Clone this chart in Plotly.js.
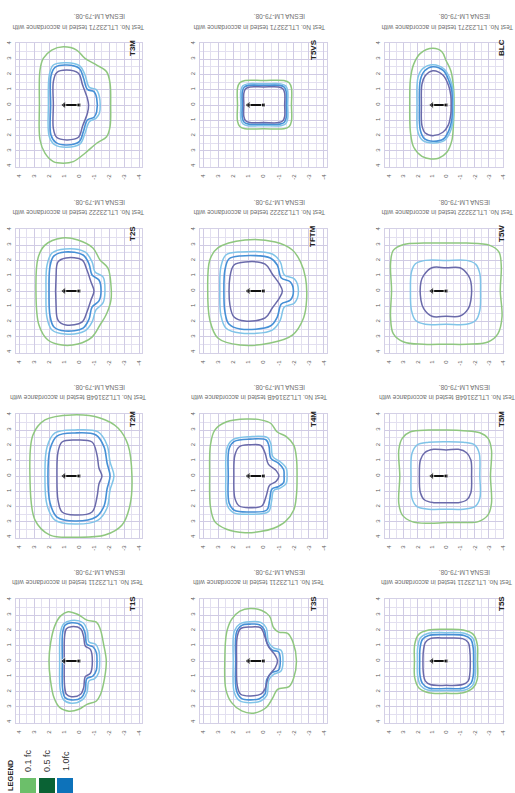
<!DOCTYPE html>
<html><head><meta charset="utf-8">
<script src="https://cdn.plot.ly/plotly-3.0.1.min.js"></script>
<style>html,body{margin:0;padding:0;background:#fff}#chart{width:515px;height:793px}</style>
</head><body><div id="chart"></div>
<script>
// ---------- panel info ----------
const panelNames = ['T3M','T5VS','BLC','T2S','TFTM','T5W','T2M','T4M','T5M','T1S','T3S','T5S'];
const testNos = ['LTL23271','LTL23271','LTL23271','LTL23222','LTL23222','LTL23222','LTL23164B','LTL23164B','LTL23164B','LTL23211','LTL23211','LTL23211'];
const captionLine2 = 'IESNA LM-79-08.';
const xTickVals = [4,3,2,1,0,-1,-2,-3,-4];
const xTickText = ['4','3','2','1','0','-1','-2','-3','-4'];
const yTickVals = [4,3,2,1,0,-1,-2,-3,-4];
const yTickText = ['4','3','2','1','0','1','2','3','4'];
const minorVals = [-3.5,-2.5,-1.5,-0.5,0.5,1.5,2.5,3.5];
const arrowX = [0, 1];
const arrowY = [0, 0];
const legendLabels = ['0.1 fc','0.5 fc','1.0fc'];
const legendColors = ['#6cbf6a','#0a6234','#0d72ba'];

// ---------- contour data (x: luminaire axis, y: along) ----------
const T3M_gx = [1.04,0.16,-0.4,-1.18,-1.84,-2.07,-2.11,-2.07,-1.84,-1.18,-0.4,0.38,1.04,1.71,2.27,2.6,2.64,2.6,2.38,1.82];
const T3M_gy = [3.8,3.59,3.04,2.61,2.17,1.41,0,-1.41,-2.07,-2.5,-3.15,-3.7,-3.8,-3.7,-3.15,-2.28,0,2.28,3.04,3.59];
const T3M_cx = [0.82,-0.07,-0.4,-0.69,-1.13,-1.36,-1.36,-1.13,-0.69,-0.4,-0.07,0.82,1.6,1.98,2.04,1.98,1.71];
const T3M_cy = [2.76,2.54,1.96,1.15,1.02,0.54,-0.54,-0.87,-1.09,-1.85,-2.54,-2.76,-2.61,-2.07,0,1.96,2.61];
const T3M_bx = [0.82,-0.02,-0.29,-0.56,-1.0,-1.18,-1.18,-1.0,-0.56,-0.29,-0.02,0.82,1.53,1.87,1.89,1.87,1.6];
const T3M_by = [2.61,2.39,1.8,1.02,0.87,0.43,-0.43,-0.8,-0.98,-1.74,-2.39,-2.61,-2.46,-1.96,0,1.89,2.46];
const T3M_px = [0.82,0.04,-0.24,-0.56,-0.64,-0.56,-0.24,0.04,0.82,1.49,1.71,1.71,1.71,1.49];
const T3M_py = [2.28,2.07,1.3,0.43,0,-0.54,-1.37,-2.11,-2.28,-2.11,-1.52,0,1.52,2.11];

const T5VS_gx = [0,-1.35,-1.7,-1.85,-1.85,-1.85,-1.7,-1.35,0,1.22,1.57,1.72,1.72,1.72,1.57,1.22];
const T5VS_gy = [1.6,1.6,1.45,1.1,0,-1.05,-1.4,-1.55,-1.55,-1.55,-1.4,-1.05,0,1.1,1.45,1.6];
const T5VS_cx = [0,-1.15,-1.47,-1.6,-1.6,-1.6,-1.47,-1.15,0,1.05,1.37,1.5,1.5,1.5,1.37,1.05];
const T5VS_cy = [1.38,1.38,1.25,0.93,0,-0.9,-1.22,-1.35,-1.35,-1.35,-1.22,-0.9,0,0.93,1.25,1.38];
const T5VS_bx = [0,-1.08,-1.38,-1.5,-1.5,-1.5,-1.38,-1.08,0,0.98,1.28,1.4,1.4,1.4,1.28,0.98];
const T5VS_by = [1.28,1.28,1.16,0.86,0,-0.83,-1.13,-1.25,-1.25,-1.25,-1.13,-0.83,0,0.86,1.16,1.28];
const T5VS_px = [0,-1.0,-1.28,-1.4,-1.4,-1.4,-1.28,-1.0,0,0.9,1.18,1.3,1.3,1.3,1.18,0.9];
const T5VS_py = [1.18,1.18,1.06,0.78,0,-0.75,-1.03,-1.15,-1.15,-1.15,-1.03,-0.75,0,0.78,1.06,1.18];

const BLC_gx = [0.93,0.3,0,-0.33,-0.51,-0.56,-0.51,-0.4,-0.05,0.53,1.07,1.7,2.28,2.51,2.56,2.51,2.28,1.81];
const BLC_gy = [3.7,3.48,2.89,2.24,1.26,0,-1.35,-2.33,-3.09,-3.48,-3.52,-3.35,-2.76,-1.78,0,1.7,2.67,3.37];
const BLC_cx = [0.93,0.14,-0.28,-0.47,-0.51,-0.47,-0.28,0.14,0.93,1.63,1.98,2.05,1.98,1.63];
const BLC_cy = [2.63,2.35,1.7,1.04,0,-1.13,-1.78,-2.33,-2.48,-2.33,-1.78,0,1.8,2.39];
const BLC_bx = [0.93,0.19,-0.19,-0.4,-0.42,-0.4,-0.19,0.19,0.93,1.51,1.81,1.88,1.81,1.51];
const BLC_by = [2.5,2.24,1.59,0.93,0,-0.96,-1.67,-2.22,-2.37,-2.22,-1.67,0,1.65,2.24];
const BLC_px = [0.93,0.23,-0.16,-0.33,-0.35,-0.33,-0.16,0.23,0.88,1.47,1.7,1.74,1.7,1.47];
const BLC_py = [2.24,1.96,1.3,0.61,0,-0.59,-1.3,-1.78,-2.0,-1.83,-1.35,0,1.37,1.91];

const T2S_gx = [1.13,0.07,-0.93,-1.4,-1.93,-2.13,-2.13,-1.8,-1.4,-0.87,0.07,1.13,2.07,2.67,2.87,2.73,2.27];
const T2S_gy = [3.46,3.33,2.81,2.03,1.5,0.39,-0.59,-1.57,-2.22,-3.01,-3.46,-3.53,-3.2,-2.22,0,2.16,3.0];
const T2S_cx = [0.93,-0.4,-0.87,-1.07,-1.6,-1.73,-1.6,-1.13,-0.87,-0.4,0.93,1.8,2.13,2.2,2.13,1.8];
const T2S_cy = [2.75,2.55,1.9,1.24,0.92,0,-0.78,-1.24,-2.03,-2.61,-2.81,-2.55,-1.76,0,1.7,2.48];
const T2S_bx = [0.93,-0.27,-0.67,-0.87,-1.33,-1.47,-1.33,-0.87,-0.67,-0.27,0.93,1.67,1.93,2.0,1.93,1.67];
const T2S_by = [2.55,2.35,1.76,1.05,0.72,0,-0.65,-1.05,-1.83,-2.42,-2.61,-2.35,-1.63,0,1.63,2.29];
const T2S_px = [0.87,-0.2,-0.53,-0.8,-1.0,-0.8,-0.53,-0.2,0.87,1.4,1.53,1.53,1.4];
const T2S_py = [2.16,2.03,1.37,0.59,0,-0.59,-1.37,-2.03,-2.22,-1.9,-0.92,0.92,1.9];

const TFTM_gx = [1.22,-0.78,-1.91,-2.45,-2.78,-2.85,-2.65,-1.91,-0.45,1.55,3.02,3.55,3.69,3.55,3.02];
const TFTM_gy = [3.33,3.2,2.68,1.9,0.85,-0.59,-1.76,-2.88,-3.4,-3.53,-3.07,-1.9,0.07,2.03,2.81];
const TFTM_cx = [1.55,-0.58,-1.11,-1.38,-2.05,-2.31,-2.05,-1.38,-1.11,-0.58,1.55,2.49,2.82,2.89,2.82,2.49];
const TFTM_cy = [2.55,2.42,1.9,1.05,0.78,0,-0.78,-1.05,-1.9,-2.55,-2.75,-2.42,-1.57,0,1.57,2.35];
const TFTM_bx = [1.55,-0.45,-0.91,-1.18,-1.78,-1.98,-1.78,-1.18,-0.91,-0.45,1.55,2.29,2.55,2.62,2.55,2.29];
const TFTM_by = [2.29,2.16,1.7,0.85,0.59,0,-0.59,-0.85,-1.7,-2.29,-2.48,-2.16,-1.37,0,1.37,2.09];
const TFTM_px = [1.22,-0.11,-0.58,-1.05,-1.25,-1.05,-0.58,-0.11,1.22,1.95,2.22,2.22,1.95];
const TFTM_py = [1.9,1.76,1.11,0.46,0,-0.46,-1.11,-1.76,-1.96,-1.7,-0.92,0.92,1.7];

const T5W_gx = [0,-1.44,-3.07,-3.72,-3.88,-3.81,-3.93,-3.65,-2.95,-1.44,0,1.58,2.98,3.72,3.91,3.84,3.91,3.72,2.98,1.58];
const T5W_gy = [3.13,3.13,2.98,2.54,1.57,0.04,-1.7,-2.78,-3.33,-3.48,-3.48,-3.48,-3.33,-2.78,-1.7,0.04,1.78,2.65,3.04,3.13];
const T5W_cx = [0,-1.44,-2.09,-2.37,-2.42,-2.37,-2.09,-1.44,0,1.47,2.16,2.44,2.51,2.44,2.16,1.47];
const T5W_cy = [2.0,2.0,1.74,1.13,0,-1.26,-1.91,-2.17,-2.17,-2.17,-1.91,-1.26,0,1.24,1.78,2.0];
const T5W_px = [0,-0.98,-1.56,-1.74,-1.74,-1.56,-0.98,0,1.0,1.58,1.77,1.77,1.58,1.0];
const T5W_py = [1.52,1.52,1.02,0.59,-0.61,-1.15,-1.63,-1.65,-1.65,-1.15,-0.61,0.59,1.02,1.52];

const T2M_gx = [0.47,-1.4,-2.6,-3.27,-3.53,-3.4,-2.87,-1.73,0.27,1.93,2.93,3.27,3.07,2.27];
const T2M_gy = [3.99,3.79,3.14,2.03,0,-1.9,-3.2,-3.86,-4.0,-3.86,-2.88,0,2.68,3.66];
const T2M_cx = [0.27,-1.27,-1.87,-2.07,-2.33,-2.07,-1.87,-1.27,0.27,1.6,2.13,2.27,2.13,1.6];
const T2M_cy = [3.01,2.88,2.03,0.92,0,-0.92,-2.09,-2.88,-3.14,-2.88,-1.9,0,1.9,2.81];
const T2M_bx = [0.27,-1.13,-1.67,-1.87,-2.07,-1.87,-1.67,-1.13,0.27,1.47,1.93,2.07,1.93,1.47];
const T2M_by = [2.81,2.68,1.9,0.85,0,-0.85,-1.96,-2.68,-2.94,-2.68,-1.76,0,1.76,2.61];
const T2M_px = [0.27,-0.87,-1.2,-1.33,-1.53,-1.33,-1.2,-0.87,0.27,1.13,1.4,1.47,1.4,1.13];
const T2M_py = [2.35,2.22,1.37,0.52,0,-0.52,-1.37,-2.35,-2.55,-2.35,-1.57,0,1.57,2.22];

const T4M_gx = [1.11,0.11,-0.49,-0.89,-1.51,-2.0,-2.18,-2.22,-2.18,-2.0,-1.44,-0.67,0.22,1.22,2.44,3.22,3.51,3.56,3.51,3.22,2.44];
const T4M_gy = [3.72,3.65,3.43,2.89,2.57,2.02,1.15,0,-1.24,-2.22,-2.98,-3.41,-3.63,-3.7,-3.48,-2.98,-2.0,0,2.02,3.0,3.54];
const T4M_cx = [0.89,-0.27,-0.49,-0.62,-1.11,-1.51,-1.56,-1.49,-1.07,-0.67,-0.53,-0.33,0.89,2.0,2.4,2.49,2.4,2.0];
const T4M_cy = [2.57,2.5,2.09,1.26,0.93,0.5,0,-0.52,-0.8,-0.96,-1.67,-2.33,-2.5,-2.39,-1.89,0,1.87,2.39];
const T4M_bx = [0.89,-0.18,-0.36,-0.49,-1.0,-1.33,-1.36,-1.33,-0.96,-0.56,-0.4,-0.22,0.89,1.93,2.27,2.33,2.27,1.93];
const T4M_by = [2.41,2.35,1.96,1.15,0.83,0.43,0,-0.43,-0.7,-0.85,-1.61,-2.22,-2.35,-2.24,-1.78,0,1.8,2.26];
const T4M_px = [0.89,0.18,-0.11,-0.33,-0.84,-1.02,-0.84,-0.4,-0.18,0.11,0.89,1.6,1.89,1.96,1.89,1.6];
const T4M_py = [2.04,2.0,1.48,0.76,0.35,0,-0.35,-0.61,-1.3,-1.96,-2.07,-1.96,-1.46,0,1.37,1.91];

const T5M_gx = [0,-1.21,-2.37,-2.95,-3.19,-3.12,-3.19,-2.95,-2.26,-1.21,0,1.23,2.4,3.09,3.33,3.26,3.33,3.09,2.51,1.23];
const T5M_gy = [3.0,2.96,2.83,2.46,1.7,0,-1.78,-2.54,-2.98,-3.04,-3.04,-3.09,-2.98,-2.54,-1.78,0,1.7,2.46,2.89,3.0];
const T5M_cx = [0,-1.21,-2.02,-2.33,-2.37,-2.37,-2.02,-1.21,0,1.23,2.05,2.4,2.47,2.4,2.05,1.23];
const T5M_cy = [2.24,2.2,2.02,1.48,0,-1.46,-2.0,-2.17,-2.17,-2.17,-2.0,-1.46,0,1.48,2.02,2.2];
const T5M_px = [0,-0.86,-1.44,-1.74,-1.79,-1.74,-1.44,-0.86,0,0.88,1.51,1.81,1.88,1.81,1.51,0.88];
const T5M_py = [1.7,1.74,1.52,1.04,0,-1.09,-1.57,-1.74,-1.74,-1.74,-1.57,-1.09,0,1.04,1.52,1.74];

const T1S_gx = [0.73,0.07,-0.53,-1.16,-1.42,-1.64,-1.82,-1.71,-1.44,-1.16,-0.53,0,0.67,1.29,1.67,1.91,2.0,1.89,1.62,1.24];
const T1S_gy = [3.22,3.04,2.67,2.54,2.07,1.09,0,-1.09,-2.17,-2.61,-2.83,-3.15,-3.28,-3.04,-2.39,-1.2,0,1.2,2.28,2.93];
const T1S_cx = [0.51,-0.27,-0.56,-0.67,-1.11,-1.33,-1.38,-1.31,-1.04,-0.67,-0.53,-0.22,0.51,1.02,1.24,1.29,1.24,1.02];
const T1S_cy = [2.65,2.5,1.96,1.24,1.09,0.65,0,-0.76,-1.15,-1.3,-2.07,-2.54,-2.76,-2.54,-1.96,0,1.85,2.43];
const T1S_bx = [0.51,-0.16,-0.4,-0.53,-0.93,-1.16,-1.2,-1.16,-0.93,-0.53,-0.4,-0.16,0.51,0.93,1.09,1.11,1.09,0.93];
const T1S_by = [2.5,2.33,1.85,1.09,0.93,0.54,0,-0.59,-0.98,-1.15,-1.96,-2.39,-2.54,-2.39,-1.85,0,1.85,2.33];
const T1S_px = [0.51,-0.11,-0.31,-0.42,-0.76,-0.89,-0.76,-0.42,-0.31,-0.11,0.51,0.84,0.96,0.98,0.96,0.84];
const T1S_py = [2.24,2.11,1.59,0.98,0.76,0,-0.8,-1.02,-1.74,-2.17,-2.33,-2.17,-1.63,0,1.63,2.11];

const T3S_gx = [0.89,0.11,-0.4,-0.67,-1.0,-1.6,-1.96,-2.18,-2.0,-1.69,-0.93,-0.62,-0.18,0.67,1.44,2.11,2.49,2.56,2.44,2.11,1.56];
const T3S_gy = [3.43,3.3,2.93,2.17,1.89,1.8,1.2,0,-1.09,-1.67,-1.85,-2.39,-3.04,-3.41,-3.26,-2.72,-1.85,0,1.85,2.72,3.26];
const T3S_cx = [0.89,0.18,-0.18,-0.33,-0.67,-1.16,-1.29,-1.16,-0.67,-0.36,-0.22,0.18,0.89,1.56,1.93,2.0,1.93,1.56];
const T3S_cy = [2.57,2.52,2.17,1.24,0.85,0.7,0,-0.65,-0.87,-1.24,-2.24,-2.61,-2.72,-2.61,-2.07,0,1.96,2.43];
const T3S_bx = [0.89,0.27,-0.04,-0.22,-0.56,-1.0,-1.11,-1.0,-0.56,-0.22,-0.09,0.27,0.89,1.44,1.78,1.84,1.78,1.44];
const T3S_by = [2.41,2.37,2.07,1.2,0.72,0.59,0,-0.59,-0.76,-1.2,-2.17,-2.46,-2.54,-2.46,-1.96,0,1.89,2.33];
const T3S_px = [0.89,0.18,-0.04,-0.33,-0.78,-0.93,-0.78,-0.33,-0.11,0.18,0.89,1.51,1.73,1.78,1.73,1.51];
const T3S_py = [2.22,2.17,1.74,0.93,0.37,0,-0.43,-1.02,-1.8,-2.17,-2.28,-2.17,-1.63,0,1.63,2.11];

const T5S_gx = [0,-1.21,-1.91,-2.19,-2.21,-2.19,-1.91,-1.21,0,1.23,1.93,2.21,2.23,2.21,1.93,1.23];
const T5S_gy = [2.07,2.02,1.74,1.09,0,-1.2,-1.74,-2.07,-2.11,-2.07,-1.74,-1.09,0,1.09,1.74,2.02];
const T5S_cx = [0,-1.33,-1.86,-2.05,-2.07,-2.05,-1.86,-1.33,0,1.3,1.81,2.0,2.02,2.0,1.81,1.3];
const T5S_cy = [1.85,1.8,1.52,0.87,0,-0.98,-1.59,-1.89,-1.93,-1.89,-1.59,-0.98,0,0.87,1.52,1.8];
const T5S_bx = [0,-1.26,-1.74,-1.91,-1.93,-1.91,-1.74,-1.26,0,1.23,1.67,1.84,1.86,1.84,1.67,1.23];
const T5S_by = [1.72,1.67,1.41,0.8,0,-0.93,-1.46,-1.76,-1.8,-1.76,-1.46,-0.93,0,0.8,1.41,1.67];
const T5S_px = [0,-1.16,-1.56,-1.67,-1.7,-1.67,-1.56,-1.16,0,1.12,1.47,1.6,1.63,1.6,1.47,1.12];
const T5S_py = [1.5,1.46,1.2,0.65,0,-0.8,-1.3,-1.54,-1.59,-1.54,-1.3,-0.8,0,0.65,1.2,1.46];

// table built from the arrays above: [x, y, level]
const contourTable = {
  T3M: [[T3M_gx,T3M_gy,'g'],[T3M_cx,T3M_cy,'c'],[T3M_bx,T3M_by,'b'],[T3M_px,T3M_py,'p']],
  T5VS: [[T5VS_gx,T5VS_gy,'g'],[T5VS_cx,T5VS_cy,'c'],[T5VS_bx,T5VS_by,'b'],[T5VS_px,T5VS_py,'p']],
  BLC: [[BLC_gx,BLC_gy,'g'],[BLC_cx,BLC_cy,'c'],[BLC_bx,BLC_by,'b'],[BLC_px,BLC_py,'p']],
  T2S: [[T2S_gx,T2S_gy,'g'],[T2S_cx,T2S_cy,'c'],[T2S_bx,T2S_by,'b'],[T2S_px,T2S_py,'p']],
  TFTM: [[TFTM_gx,TFTM_gy,'g'],[TFTM_cx,TFTM_cy,'c'],[TFTM_bx,TFTM_by,'b'],[TFTM_px,TFTM_py,'p']],
  T5W: [[T5W_gx,T5W_gy,'g'],[T5W_cx,T5W_cy,'c'],[T5W_px,T5W_py,'p']],
  T2M: [[T2M_gx,T2M_gy,'g'],[T2M_cx,T2M_cy,'c'],[T2M_bx,T2M_by,'b'],[T2M_px,T2M_py,'p']],
  T4M: [[T4M_gx,T4M_gy,'g'],[T4M_cx,T4M_cy,'c'],[T4M_bx,T4M_by,'b'],[T4M_px,T4M_py,'p']],
  T5M: [[T5M_gx,T5M_gy,'g'],[T5M_cx,T5M_cy,'c'],[T5M_px,T5M_py,'p']],
  T1S: [[T1S_gx,T1S_gy,'g'],[T1S_cx,T1S_cy,'c'],[T1S_bx,T1S_by,'b'],[T1S_px,T1S_py,'p']],
  T3S: [[T3S_gx,T3S_gy,'g'],[T3S_cx,T3S_cy,'c'],[T3S_bx,T3S_by,'b'],[T3S_px,T3S_py,'p']],
  T5S: [[T5S_gx,T5S_gy,'g'],[T5S_cx,T5S_cy,'c'],[T5S_bx,T5S_by,'b'],[T5S_px,T5S_py,'p']]
};

// ---------- styles / positions ----------
const lineStyle = {g:{color:'#8fc77f',width:1.5}, c:{color:'#80c4e8',width:1.5}, b:{color:'#4690d6',width:1.6}, p:{color:'#6a6aaa',width:1.5}};
const W = 515, H = 793;
const cols = [[16,142],[200,327],[385,503]];
const rows = [[43,167],[229,353],[414,538],[599,723]];
const xRanges = [[4.2,-4.2],[4.2,-4.2],[4.3,-4.0]];
const yRange = [-4.05, 4.05];
const labelX = [132, 313, 501];
const capTestX = [78, 259, 447];
const capIesnaX = [100, 280, 465];
const FONT = 'Liberation Sans, Arial, sans-serif';
const px = v => v / W;
const py = v => 1 - v / H;

const traces = [];
const layout = {
  width: W, height: H, margin: {l:0, r:0, t:0, b:0},
  paper_bgcolor: '#ffffff', plot_bgcolor: '#ffffff', showlegend: false,
  font: {family: FONT}, annotations: [], shapes: []
};

panelNames.forEach((name, i) => {
  const r = Math.floor(i / 3), c = i % 3, k = i + 1;
  const sfx = k === 1 ? '' : String(k);
  const xr = 'x' + sfx, yr = 'y' + sfx;
  const axisCommon = {
    showgrid: true, gridcolor: '#d0cbe4', gridwidth: 1, zeroline: false,
    showline: true, linecolor: '#d4d0e6', linewidth: 1, mirror: true,
    ticks: '', tickangle: -90, tickfont: {size: 6, color: '#5a5a5a', family: FONT},
    tickmode: 'array', fixedrange: true,
    minor: {tickmode: 'array', tickvals: minorVals, showgrid: true, gridcolor: '#e3e0f0', gridwidth: 1}
  };
  layout['xaxis' + sfx] = Object.assign({}, axisCommon, {
    domain: [px(cols[c][0]), px(cols[c][1])], range: xRanges[c], anchor: yr,
    tickvals: xTickVals, ticktext: xTickText, ticklabelstandoff: 4
  });
  layout['yaxis' + sfx] = Object.assign({}, axisCommon, {
    domain: [py(rows[r][1]), py(rows[r][0])], range: yRange, anchor: xr,
    tickvals: yTickVals, ticktext: yTickText, ticklabelstandoff: 2
  });

  contourTable[name].forEach(([xs, ys, lvl]) => {
    traces.push({
      type: 'scatter', mode: 'lines', xaxis: xr, yaxis: yr,
      x: xs.concat([xs[0]]), y: ys.concat([ys[0]]),
      line: {color: lineStyle[lvl].color, width: lineStyle[lvl].width, shape: 'spline', smoothing: 1},
      hoverinfo: 'skip'
    });
  });
  traces.push({
    type: 'scatter', mode: 'lines+markers', xaxis: xr, yaxis: yr,
    x: arrowX, y: arrowY, line: {color: '#111', width: 2},
    marker: {symbol: ['square', 'triangle-left'], size: [4, 7], color: '#111'},
    hoverinfo: 'skip'
  });

  layout.annotations.push({
    xref: 'paper', yref: 'paper', x: px(labelX[c]), y: py(rows[r][0] + (name.length > 3 ? 7 : 5)),
    text: '<b>' + name + '</b>', textangle: -90, showarrow: false,
    xanchor: 'center', yanchor: 'middle', font: {size: 8, color: '#222', family: FONT}
  });
  layout.annotations.push({
    xref: 'paper', yref: 'paper', x: px(capTestX[c]), y: py(rows[r][0] - 16),
    text: 'Test No. ' + testNos[i] + ' tested in accordance with', textangle: 180, showarrow: false,
    xanchor: 'center', yanchor: 'middle', font: {size: 6.6, color: '#707070', family: FONT}
  });
  layout.annotations.push({
    xref: 'paper', yref: 'paper', x: px(capIesnaX[c]), y: py(rows[r][0] - 26),
    text: captionLine2, textangle: 180, showarrow: false,
    xanchor: 'center', yanchor: 'middle', font: {size: 6.6, color: '#707070', family: FONT}
  });
});

// legend
layout.annotations.push({
  xref: 'paper', yref: 'paper', x: px(10), y: py(775), text: '<b>LEGEND</b>', textangle: -90,
  showarrow: false, xanchor: 'center', yanchor: 'middle', font: {size: 7.5, color: '#222', family: FONT}
});
const legX = [28, 47, 66];
const legSqX = [20, 39, 57];
legendLabels.forEach((t, j) => {
  layout.annotations.push({
    xref: 'paper', yref: 'paper', x: px(legX[j]), y: py(761), text: t, textangle: -90,
    showarrow: false, xanchor: 'center', yanchor: 'middle', font: {size: 9, color: '#333', family: FONT}
  });
  layout.shapes.push({
    type: 'rect', xref: 'paper', yref: 'paper', x0: px(legSqX[j]), x1: px(legSqX[j] + 16),
    y0: py(795), y1: py(778), fillcolor: legendColors[j], line: {width: 0}
  });
});

Plotly.newPlot('chart', traces, layout, {staticPlot: true, displayModeBar: false});
</script></body></html>
